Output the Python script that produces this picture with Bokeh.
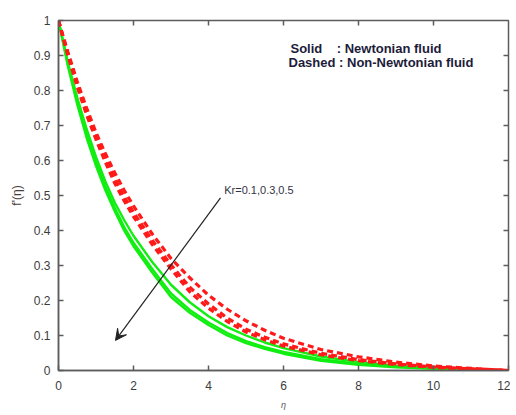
import math
from bokeh.plotting import figure
from bokeh.models import Range1d, FixedTicker, Arrow, VeeHead, Label
from bokeh.embed import file_html
from bokeh.resources import INLINE

# ---- data ----
eta = [0, 0.25, 0.5, 0.75, 1, 1.25, 1.5, 1.75, 2, 2.5, 3, 3.5, 4, 4.5, 5, 5.5, 6, 7, 8, 9, 10, 11, 12]

# Newtonian fluid (solid), Kr = 0.1, 0.3, 0.5
newt_kr01 = [1, 0.88, 0.78, 0.69, 0.61, 0.54, 0.48, 0.43, 0.385, 0.31, 0.245, 0.195, 0.155, 0.124, 0.100, 0.080, 0.064, 0.040, 0.024, 0.014, 0.007, 0.003, 0]
newt_kr03 = [1, 0.875, 0.77, 0.675, 0.595, 0.525, 0.465, 0.41, 0.365, 0.29, 0.22, 0.173, 0.137, 0.107, 0.084, 0.067, 0.053, 0.032, 0.019, 0.011, 0.006, 0.0025, 0]
newt_kr05 = [1, 0.87, 0.76, 0.665, 0.585, 0.515, 0.455, 0.40, 0.355, 0.28, 0.21, 0.165, 0.130, 0.100, 0.078, 0.062, 0.048, 0.028, 0.016, 0.009, 0.005, 0.002, 0]

# Non-Newtonian fluid (dashed), Kr = 0.1, 0.3, 0.5
nonn_kr01 = [1, 0.91, 0.825, 0.75, 0.68, 0.62, 0.565, 0.515, 0.47, 0.39, 0.32, 0.265, 0.215, 0.175, 0.142, 0.115, 0.092, 0.060, 0.039, 0.024, 0.013, 0.006, 0]
nonn_kr03 = [1, 0.905, 0.818, 0.74, 0.67, 0.607, 0.548, 0.497, 0.452, 0.372, 0.302, 0.238, 0.190, 0.150, 0.118, 0.095, 0.076, 0.049, 0.031, 0.019, 0.010, 0.005, 0]
nonn_kr05 = [1, 0.90, 0.81, 0.73, 0.66, 0.595, 0.535, 0.485, 0.44, 0.36, 0.29, 0.225, 0.178, 0.140, 0.110, 0.088, 0.070, 0.045, 0.028, 0.017, 0.009, 0.004, 0]

x_ticks = [0, 2, 4, 6, 8, 10, 12]
x_tick_labels = ["0", "2", "4", "6", "8", "10", "12"]
y_ticks = [0, 0.1, 0.2, 0.3, 0.4, 0.5, 0.6, 0.7, 0.8, 0.9, 1]
y_tick_labels = ["0", "0.1", "0.2", "0.3", "0.4", "0.5", "0.6", "0.7", "0.8", "0.9", "1"]

FONT = "Liberation Sans"
AX_COL = "#5c5c5c"
LBL_COL = "#3c3c3c"

p = figure(width=510, height=412, output_backend="svg", toolbar_location=None,
           x_range=Range1d(0, 12), y_range=Range1d(0, 1),
           min_border_left=58, min_border_right=2, min_border_top=20, min_border_bottom=40,
           x_axis_label="η", y_axis_label="f'(η)")
p.grid.visible = False
p.outline_line_color = AX_COL
p.outline_line_width = 1.5

def style_axis(ax, ticks, labels):
    ax.ticker = FixedTicker(ticks=ticks)
    ax.major_label_overrides = {t: l for t, l in zip(ticks, labels)}
    ax.major_tick_in = 5
    ax.major_tick_out = 0
    ax.minor_tick_line_color = None
    ax.axis_line_color = AX_COL
    ax.axis_line_width = 1.5
    ax.major_tick_line_color = AX_COL
    ax.major_tick_line_width = 1.5
    ax.major_label_text_font = FONT
    ax.major_label_text_font_size = "12px"
    ax.major_label_text_color = LBL_COL

style_axis(p.xaxis[0], x_ticks, x_tick_labels)
style_axis(p.yaxis[0], y_ticks, y_tick_labels)
p.xaxis[0].major_label_standoff = 10
p.yaxis[0].major_label_standoff = 8
p.xaxis[0].axis_label_text_font = FONT
p.xaxis[0].axis_label_text_font_size = "9px"
p.xaxis[0].axis_label_text_font_style = "italic"
p.xaxis[0].axis_label_text_color = "#555555"
p.xaxis[0].axis_label_standoff = 7
p.yaxis[0].axis_label_text_font = FONT
p.yaxis[0].axis_label_text_font_size = "12px"
p.yaxis[0].axis_label_text_font_style = "normal"
p.yaxis[0].axis_label_text_color = "#4a3c3c"
p.yaxis[0].axis_label_standoff = 7

# inward ticks on the top and right frame edges (markers are clipped to the frame)
p.scatter(x_ticks[1:-1], [1] * (len(x_ticks) - 2), marker="dash", size=10,
          angle=math.pi / 2, line_color=AX_COL, line_width=1.5)
p.scatter([12] * (len(y_ticks) - 2), y_ticks[1:-1], marker="dash", size=10,
          line_color=AX_COL, line_width=1.5)

GREEN = "#11ee11"
RED = "#ff1a1a"
for ys in (newt_kr01, newt_kr03, newt_kr05):
    p.line(eta, ys, line_color=GREEN, line_width=2.4)
for ys in (nonn_kr01, nonn_kr03, nonn_kr05):
    p.line(eta, ys, line_color=RED, line_width=3.2, line_dash="6 4")

# arrow annotation
p.add_layout(Arrow(x_start=4.32, y_start=0.493, x_end=1.52, y_end=0.086,
                   line_color="#222222", line_width=1.2,
                   end=VeeHead(size=11, fill_color="#222222", line_color="#222222")))
p.add_layout(Label(x=4.42, y=0.50, text="Kr=0.1,0.3,0.5", text_font=FONT,
                   text_font_size="11px", text_color="#333344"))

NB = "\u00a0"
p.add_layout(Label(x=232, y=315, x_units="screen", y_units="screen",
                   text="Solid" + NB * 4 + ": Newtonian fluid", text_font=FONT,
                   text_font_size="13px", text_font_style="bold", text_color="#1c1c3a"))
p.add_layout(Label(x=230, y=301, x_units="screen", y_units="screen",
                   text="Dashed : Non-Newtonian fluid", text_font=FONT,
                   text_font_size="13px", text_font_style="bold", text_color="#1c1c3a"))

open("out.html", "w").write(file_html(p, INLINE))
